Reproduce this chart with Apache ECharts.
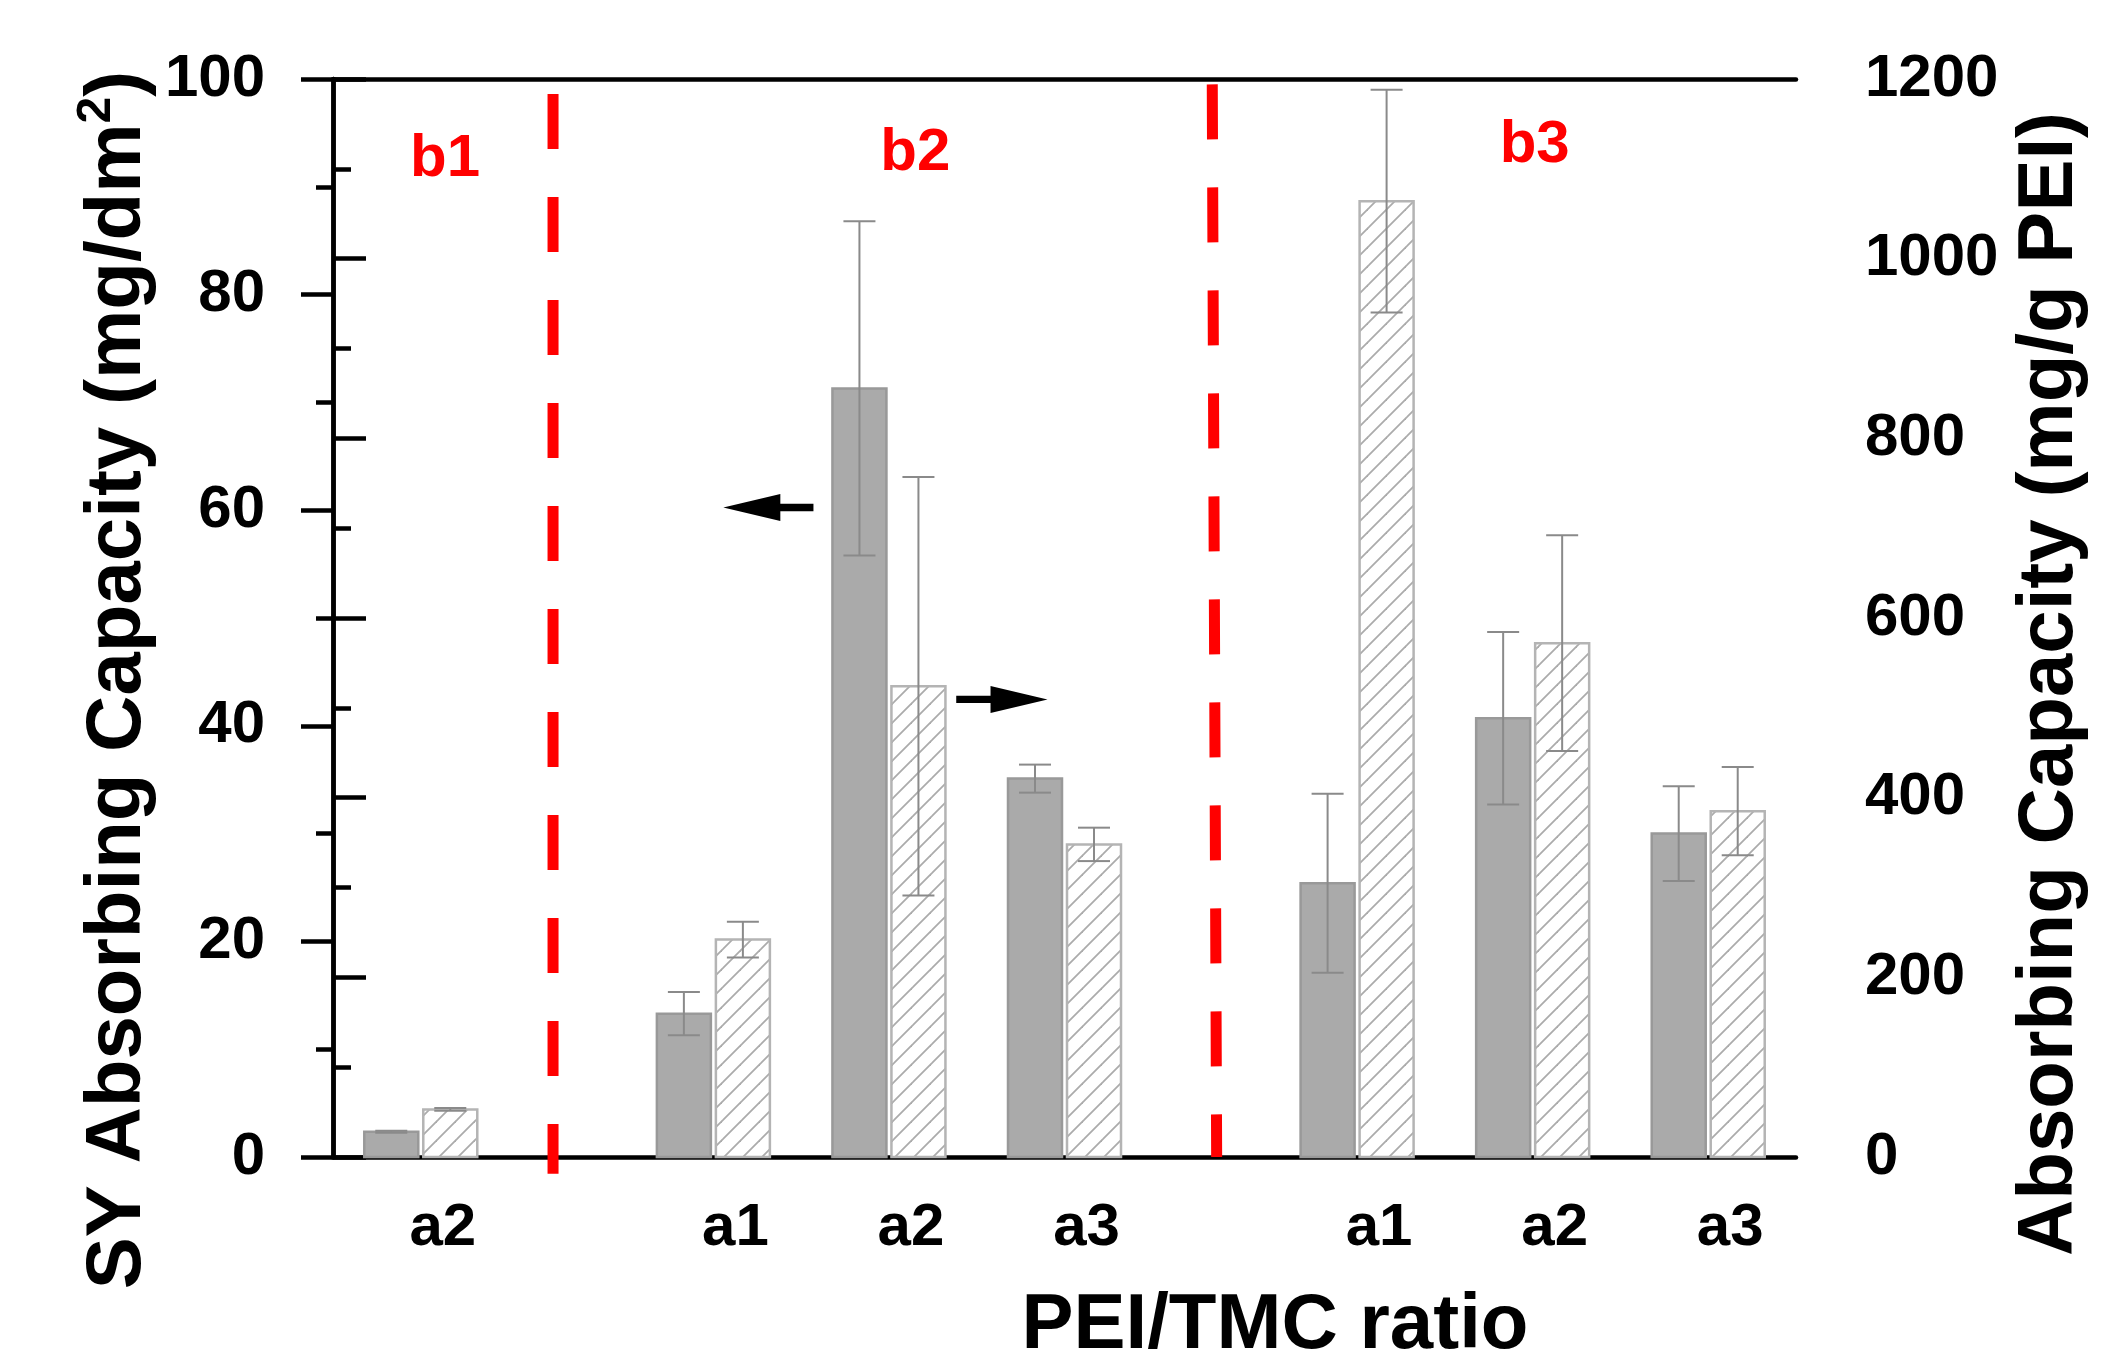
<!DOCTYPE html>
<html>
<head>
<meta charset="utf-8">
<script src="https://cdn.jsdelivr.net/npm/echarts@6/dist/echarts.min.js"></script>
<style>
html, body { margin: 0; background: #fff; }
#chart { width: 2104px; height: 1362px; }
</style>
</head>
<body>
<div id="chart"></div>
<script>
// groups (b) and PEI/TMC ratios (a) along the x axis
const groupNames = ['b1', 'b2', 'b3'];
const groups = ['b1', 'b2', 'b2', 'b2', 'b3', 'b3', 'b3'];
const ratios = ['a2', 'a1', 'a2', 'a3', 'a1', 'a2', 'a3'];

// SY absorbing capacity, mg/dm2 (left axis, grey bars)
const syCapacity = [2.34, 13.3, 71.3, 35.1, 25.4, 40.7, 30.0];
const syError = [0.1, 2.0, 15.5, 1.3, 8.3, 8.0, 4.4];

// absorbing capacity, mg/g PEI (right axis, hatched bars)
const peiCapacity = [53, 242, 524, 348, 1064, 572, 385];
const peiError = [1.5, 20, 233, 18.6, 124, 120, 49];

// tick labels
const leftTicks = [0, 20, 40, 60, 80, 100];
const rightTicks = [0, 200, 400, 600, 800, 1000, 1200];

const FONT = '"Liberation Sans", Arial, sans-serif';

// x position of every group on the value axis: 6 units apart, 10 between b groups
const xPos = ratios.map((r, i) => 3 + 6 * i + 4 * groupNames.indexOf(groups[i]));

// diagonal hatch tile for the right-axis bars
const hatch = document.createElement('canvas');
hatch.width = hatch.height = 19;
const hc = hatch.getContext('2d');
hc.fillStyle = '#fff';
hc.fillRect(0, 0, 19, 19);
hc.strokeStyle = '#ababab';
hc.lineWidth = 1.8;
[0, 19, 38].forEach(k => {
    hc.beginPath();
    hc.moveTo(k + 1, -1);
    hc.lineTo(k - 20, 20);
    hc.stroke();
});

const BAR_W = 54, BAR_GAP = 5, CAP = 32;

function barRenderer(side, fill, stroke) {
    return function (params, api) {
        const x = api.value(0), v = api.value(1), e = api.value(2);
        const top = api.coord([x, v]);
        const base = api.coord([x, 0]);
        const hi = api.coord([x, v + e]);
        const lo = api.coord([x, v - e]);
        const left = side < 0 ? top[0] - BAR_GAP / 2 - BAR_W : top[0] + BAR_GAP / 2;
        const cx = left + BAR_W / 2;
        const errStyle = { stroke: '#8a8a8a', lineWidth: 2 };
        return {
            type: 'group',
            children: [
                { type: 'rect', shape: { x: left, y: top[1], width: BAR_W, height: base[1] - top[1] },
                  style: { fill: fill, stroke: stroke, lineWidth: 2.5 } },
                { type: 'line', shape: { x1: cx, y1: hi[1], x2: cx, y2: lo[1] }, style: errStyle },
                { type: 'line', shape: { x1: cx - CAP / 2, y1: hi[1], x2: cx + CAP / 2, y2: hi[1] }, style: errStyle },
                { type: 'line', shape: { x1: cx - CAP / 2, y1: lo[1], x2: cx + CAP / 2, y2: lo[1] }, style: errStyle }
            ]
        };
    };
}

function arrow(api, from, to) {
    const a = api.coord(from), b = api.coord(to);
    const dir = Math.sign(b[0] - a[0]);
    const head = 57, half = 13.5, shaft = 3.7;
    const bx = b[0] - dir * head;
    return {
        type: 'polygon',
        shape: { points: [[a[0], a[1] - shaft], [bx, a[1] - shaft], [bx, a[1] - half], [b[0], b[1]],
                          [bx, a[1] + half], [bx, a[1] + shaft], [a[0], a[1] + shaft]] },
        style: { fill: '#000' }
    };
}

function redLabel(api, text, at) {
    const p = api.coord(at);
    return { type: 'text', x: p[0], y: p[1],
             style: { text: text, fill: '#ff0000', font: 'bold 60px ' + FONT, align: 'center', verticalAlign: 'middle' } };
}

const axisBlack = { color: '#000', width: 4.5 };

const option = {
    animation: false,
    backgroundColor: '#fff',
    grid: { left: 333, right: 308, top: 79, bottom: 205, containLabel: false },
    xAxis: [{
        type: 'value', min: 0, max: 50, position: 'bottom',
        axisLine: { show: true, onZero: false, lineStyle: axisBlack },
        axisTick: { show: false }, axisLabel: { show: false }, splitLine: { show: false }
    }, {
        type: 'value', min: 0, max: 50, position: 'top',
        axisLine: { show: true, onZero: false, lineStyle: axisBlack },
        axisTick: { show: false }, axisLabel: { show: false }, splitLine: { show: false }
    }],
    yAxis: [{
        type: 'value', position: 'left',
        min: leftTicks[0], max: leftTicks[leftTicks.length - 1], interval: leftTicks[1] - leftTicks[0],
        axisLine: { show: true, lineStyle: axisBlack },
        axisTick: { show: true, length: 32, lineStyle: axisBlack },
        minorTick: { show: true, splitNumber: 2, length: 17, lineStyle: axisBlack },
        splitLine: { show: false },
        axisLabel: { margin: 68, fontSize: 60, fontWeight: 'bold', color: '#000', fontFamily: FONT,
                     padding: [0, 0, 8, 0], formatter: v => String(v) }
    }, {
        type: 'value', position: 'right',
        min: rightTicks[0], max: rightTicks[rightTicks.length - 1], interval: rightTicks[1] - rightTicks[0],
        axisLine: { show: true, lineStyle: axisBlack },
        axisTick: { show: true, length: 33, lineStyle: axisBlack },
        minorTick: { show: true, splitNumber: 2, length: 18, lineStyle: axisBlack },
        splitLine: { show: false },
        axisLabel: { margin: 69, fontSize: 60, fontWeight: 'bold', color: '#000', fontFamily: FONT,
                     padding: [0, 0, 12, 0], formatter: v => String(v) }
    }],
    graphic: [{
        type: 'text', x: 118, y: 680, rotation: Math.PI / 2,
        style: {
            text: '{t|SY Absorbing Capacity (mg/dm}{s|2}{t|)}',
            align: 'center', verticalAlign: 'middle',
            rich: {
                t: { font: 'bold 78px ' + FONT, fill: '#000' },
                s: { font: 'bold 48px ' + FONT, fill: '#000', verticalAlign: 'top', lineHeight: 90 }
            }
        }
    }, {
        type: 'text', x: 2050, y: 684, rotation: Math.PI / 2,
        style: { text: 'Absorbing Capacity (mg/g PEI)', font: 'bold 78px ' + FONT, fill: '#000',
                 align: 'center', verticalAlign: 'middle' }
    }, {
        type: 'text', x: 1275, y: 1326,
        style: { text: 'PEI/TMC ratio', font: 'bold 78px ' + FONT, fill: '#000',
                 align: 'center', verticalAlign: 'middle' }
    }],
    series: [{
        name: 'SY absorbing capacity', type: 'custom', xAxisIndex: 0, yAxisIndex: 0, clip: false,
        encode: { x: 0, y: 1 },
        data: syCapacity.map((v, i) => [xPos[i], v, syError[i]]),
        renderItem: barRenderer(-1, '#aaaaaa', '#999999')
    }, {
        name: 'Absorbing capacity', type: 'custom', xAxisIndex: 0, yAxisIndex: 1, clip: false,
        encode: { x: 0, y: 1 },
        data: peiCapacity.map((v, i) => [xPos[i], v, peiError[i]]),
        renderItem: barRenderer(1, { image: hatch, repeat: 'repeat' }, '#b4b4b4')
    }, {
        name: 'ratio labels', type: 'custom', xAxisIndex: 0, yAxisIndex: 0, clip: false,
        data: xPos.map((x, i) => [x, 0, ratios[i]]),
        renderItem: function (params, api) {
            const p = api.coord([api.value(0), 0]);
            return { type: 'text', x: p[0] + 22, y: p[1] + 71,
                     style: { text: ratios[params.dataIndex], font: 'bold 60px ' + FONT, fill: '#000',
                              align: 'center', verticalAlign: 'middle' } };
        }
    }, {
        name: 'notes', type: 'custom', xAxisIndex: 0, yAxisIndex: 0, clip: false, z: 5,
        data: [[0, 0]],
        renderItem: function (params, api) {
            const d1a = api.coord([7.52, 98.6]), d1b = api.coord([7.52, -1.55]);
            const d2a = api.coord([30.05, 99.5]), d2b = api.coord([30.2, 0]);
            const dash = { stroke: '#ff0000', lineWidth: 11, lineDash: [55, 48] };
            return {
                type: 'group',
                children: [
                    { type: 'line', shape: { x1: d1a[0], y1: d1a[1], x2: d1b[0], y2: d1b[1] }, style: dash },
                    { type: 'line', shape: { x1: d2a[0], y1: d2a[1], x2: d2b[0], y2: d2b[1] }, style: dash },
                    arrow(api, [16.42, 60.25], [13.34, 60.25]),
                    arrow(api, [21.3, 42.45], [24.42, 42.45]),
                    redLabel(api, groupNames[0], [3.83, 92.5]),
                    redLabel(api, groupNames[1], [19.9, 93.1]),
                    redLabel(api, groupNames[2], [41.07, 93.8])
                ]
            };
        }
    }]
};

const chart = echarts.init(document.getElementById('chart'));
chart.setOption(option);
window.addEventListener('resize', chart.resize);
</script>
</body>
</html>
